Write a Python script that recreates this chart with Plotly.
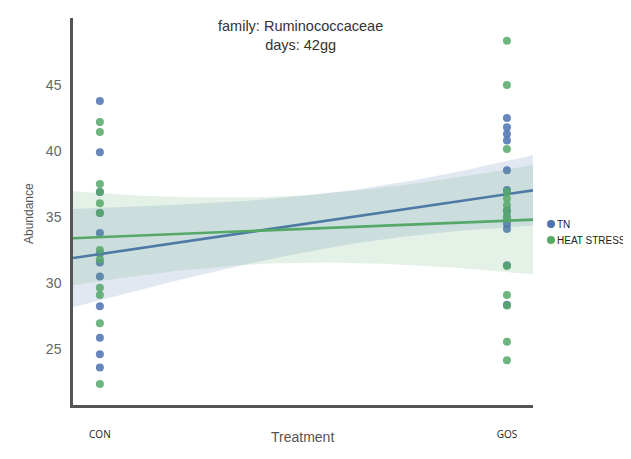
import numpy as np
import plotly.graph_objects as go

# ---- data ----
categories = ["CON", "GOS"]
series_names = ["TN", "HEAT STRESS"]
con_tn = [43.8, 39.9, 36.9, 35.3, 33.8, 32.25, 31.55, 30.5, 28.25, 25.85, 24.6, 23.6]
gos_tn = [42.5, 41.8, 41.3, 40.8, 38.55, 37.05, 35.5, 35.0, 34.5, 34.1, 31.35, 28.35]
con_hs = [42.2, 41.45, 37.5, 36.9, 36.05, 35.3, 32.5, 31.8, 29.65, 29.1, 26.95, 22.35]
gos_hs = [48.35, 45.0, 40.15, 36.9, 36.4, 35.9, 35.4, 34.9, 31.3, 29.1, 28.3, 25.55, 24.15]
y_ticks = [25, 30, 35, 40, 45]
title_lines = ["family: Ruminococcaceae", "days: 42gg"]

colors = {"TN": "#4C72B0", "HEAT STRESS": "#55A868"}
bands = {"TN": "rgba(76,114,176,0.16)", "HEAT STRESS": "rgba(85,168,104,0.16)"}

XR = [-0.066, 1.064]
YR = [20.76, 50.08]

fig = go.Figure()

def add_group(name, con, gos):
    c = np.array(con, dtype=float)
    g = np.array(gos, dtype=float)
    x = np.array([0.0] * len(c) + [1.0] * len(g))
    y = np.concatenate([c, g])
    fig.add_trace(go.Scatter(x=x, y=y, mode="markers", name=name, showlegend=False,
                             marker=dict(size=8, color=colors[name], opacity=0.85,
                                         line=dict(width=0))))
    # linear fit (through the two group means) with a 95% band
    b, a = np.polyfit(x, y, 1)
    v0 = c.var(ddof=1) / len(c)
    v1 = g.var(ddof=1) / len(g)
    gx = np.linspace(XR[0], XR[1], 80)
    gy = a + b * gx
    se = np.sqrt((1 - gx) ** 2 * v0 + gx ** 2 * v1)
    hi = gy + 1.96 * se
    lo = gy - 1.96 * se
    fig.add_trace(go.Scatter(x=np.concatenate([gx, gx[::-1]]), y=np.concatenate([hi, lo[::-1]]),
                             mode="lines", fill="toself", fillcolor=bands[name],
                             line=dict(width=0), hoverinfo="skip", showlegend=False))
    fig.add_trace(go.Scatter(x=gx, y=gy, mode="lines", showlegend=False,
                             line=dict(color=colors[name], width=2.6)))

add_group("TN", con_tn, gos_tn)
add_group("HEAT STRESS", con_hs, gos_hs)

# page body has an 8px margin, so the figure is placed 8px in from the window corner
OFF = 8
W, H = 631 - OFF, 459 - OFF
L, T = 73 - OFF, 18 - OFF
R = W - (533 - OFF)
B = H - (405 - OFF)
pw, ph = W - L - R, H - T - B

def px(xp):  # reference window pixel -> paper x
    return (xp - OFF - L) / pw

def py(yp):  # reference window pixel -> paper y
    return (H - B - (yp - OFF)) / ph

fig.update_layout(
    width=W, height=H,
    margin=dict(l=L, r=R, t=T, b=B),
    paper_bgcolor="white", plot_bgcolor="white",
    showlegend=False,
    font=dict(family="Liberation Sans, Arial, sans-serif", color="#444"),
)
fig.update_xaxes(range=XR, tickvals=[0, 1], ticktext=categories, showgrid=False, zeroline=False,
                 showline=True, linecolor="#555", linewidth=2.5, ticks="",
                 ticklabelstandoff=18,
                 tickfont=dict(family="Open Sans, Liberation Sans, sans-serif", size=10, color="#222"))
fig.update_yaxes(range=YR, tickvals=y_ticks, showgrid=False, zeroline=False,
                 showline=True, linecolor="#555", linewidth=2.5, ticks="",
                 ticklabelstandoff=6,
                 tickfont=dict(family="Liberation Sans, Arial, sans-serif", size=14, color="#666"))

fig.add_annotation(text="<br>".join(title_lines), x=px(300), y=py(35), xref="paper", yref="paper",
                   showarrow=False, xanchor="center", yanchor="middle", align="center",
                   font=dict(size=14.5, color="#333"))
fig.add_annotation(text="Treatment", x=px(302), y=py(437), xref="paper", yref="paper",
                   showarrow=False, xanchor="center", yanchor="middle",
                   font=dict(size=14, color="#555"))
fig.add_annotation(text="Abundance", x=px(29), y=py(214), xref="paper", yref="paper",
                   showarrow=False, textangle=-90, xanchor="center", yanchor="middle",
                   font=dict(size=12, color="#555"))

# legend drawn at the right of the axes
for i, name in enumerate(series_names):
    yy = py(224 + 16 * i)
    fig.add_shape(type="circle", xref="paper", yref="paper", xsizemode="pixel", ysizemode="pixel",
                  xanchor=px(551), yanchor=yy, x0=-4, x1=4, y0=-4, y1=4,
                  fillcolor=colors[name], line=dict(width=0))
    fig.add_annotation(text=name, x=px(558), y=yy, xref="paper", yref="paper", showarrow=False,
                       xanchor="left", yanchor="middle", xshift=-3,
                       font=dict(size=10, color="#222"))

fig.write_html("out.html")
